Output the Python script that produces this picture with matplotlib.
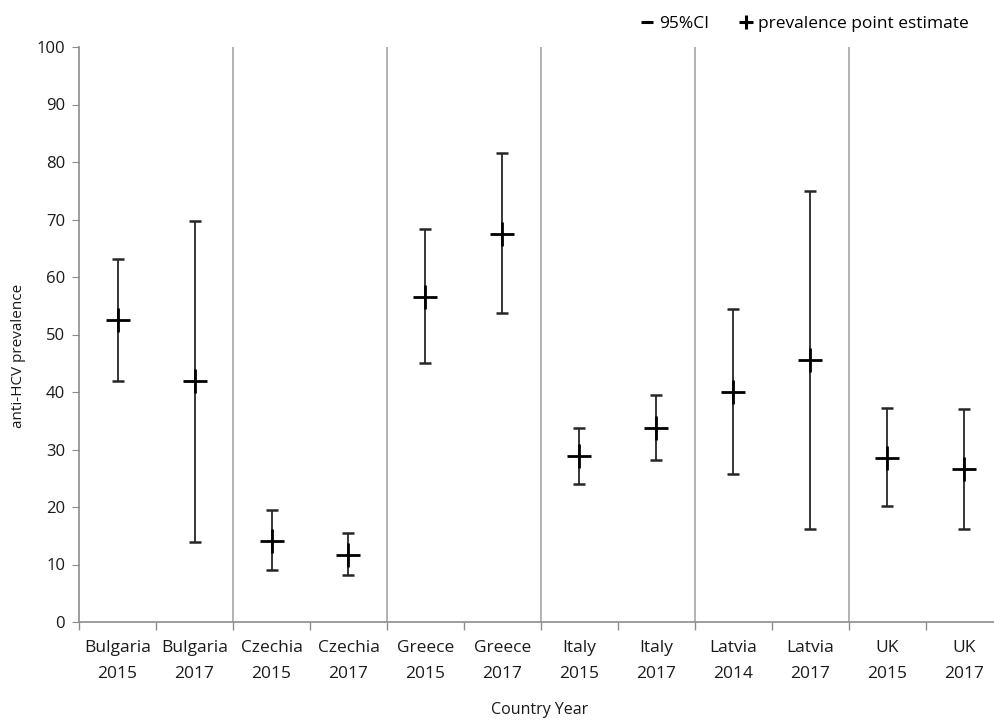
import numpy as np
import matplotlib
matplotlib.use('Agg')
import matplotlib.pyplot as plt
from matplotlib.lines import Line2D

plt.rcParams['font.family'] = ['Open Sans', 'DejaVu Sans']

labels = ["Bulgaria\n2015", "Bulgaria\n2017", "Czechia\n2015", "Czechia\n2017",
          "Greece\n2015", "Greece\n2017", "Italy\n2015", "Italy\n2017",
          "Latvia\n2014", "Latvia\n2017", "UK\n2015", "UK\n2017"]
prevalence = [52.6, 41.9, 14.1, 11.7, 56.5, 67.5, 28.9, 33.8, 40.0, 45.6, 28.6, 26.6]
ci_low = [41.9, 14.0, 9.0, 8.1, 45.0, 53.7, 24.0, 28.2, 25.7, 16.2, 20.2, 16.2]
ci_high = [63.1, 69.8, 19.5, 15.5, 68.4, 81.6, 33.7, 39.5, 54.5, 75.0, 37.3, 37.0]

prev = np.array(prevalence)
lo = prev - np.array(ci_low)
hi = np.array(ci_high) - prev
x = np.arange(len(labels))

fig = plt.figure(figsize=(9.94, 7.2), dpi=100)
ax = fig.add_axes([79/994, 98/720, 924/994, 575/720])

for b in [1.5, 3.5, 5.5, 7.5, 9.5]:
    ax.axvline(b, color='#a6a6a6', lw=1.2, zorder=1)

ax.errorbar(x, prev, yerr=[lo, hi], fmt='none', ecolor='#262626', elinewidth=1.3,
            capsize=4.5, capthick=1.8, zorder=2)
ax.plot(x, prev, ls='none', marker='+', ms=17, mew=2.0, color='black', zorder=3)

ax.set_xlim(-0.5, 11.5)
ax.set_ylim(0, 100)
ax.set_yticks(range(0, 101, 10))
ax.set_xticks(x)
ax.set_xticklabels(labels, fontsize=12.5, color='#1a1a1a', linespacing=1.8)
ax.set_xticks(np.arange(-0.5, 12, 1), minor=True)
ax.tick_params(axis='x', which='major', length=0, pad=13)
ax.tick_params(axis='x', which='minor', length=6, color='#8c8c8c', width=1)
ax.tick_params(axis='y', length=5, color='#8c8c8c', labelsize=12, labelcolor='#1a1a1a', pad=5)

for s in ['top', 'right']:
    ax.spines[s].set_visible(False)
for s in ['left', 'bottom']:
    ax.spines[s].set_color('#8c8c8c')
    ax.spines[s].set_linewidth(1.2)

ax.set_ylabel('anti-HCV prevalence', fontsize=11, color='#1a1a1a')
ax.yaxis.set_label_coords(-0.057, 0.463)
ax.set_xlabel('Country Year', fontsize=11.5, color='#1a1a1a')
ax.xaxis.set_label_coords((540 - 79) / 924, -0.14)

handles = [Line2D([], [], ls='none', marker='_', ms=8, mew=2.2, color='black'),
           Line2D([], [], ls='none', marker='+', ms=10, mew=2.2, color='black')]
fig.legend(handles, ['95%CI', 'prevalence point estimate'], ncol=2, frameon=False,
           loc='upper right', bbox_to_anchor=(0.99, 1.0), fontsize=12.5,
           handlelength=0.6, handletextpad=0.4, columnspacing=1.8)

fig.savefig('out.png', dpi=100)
